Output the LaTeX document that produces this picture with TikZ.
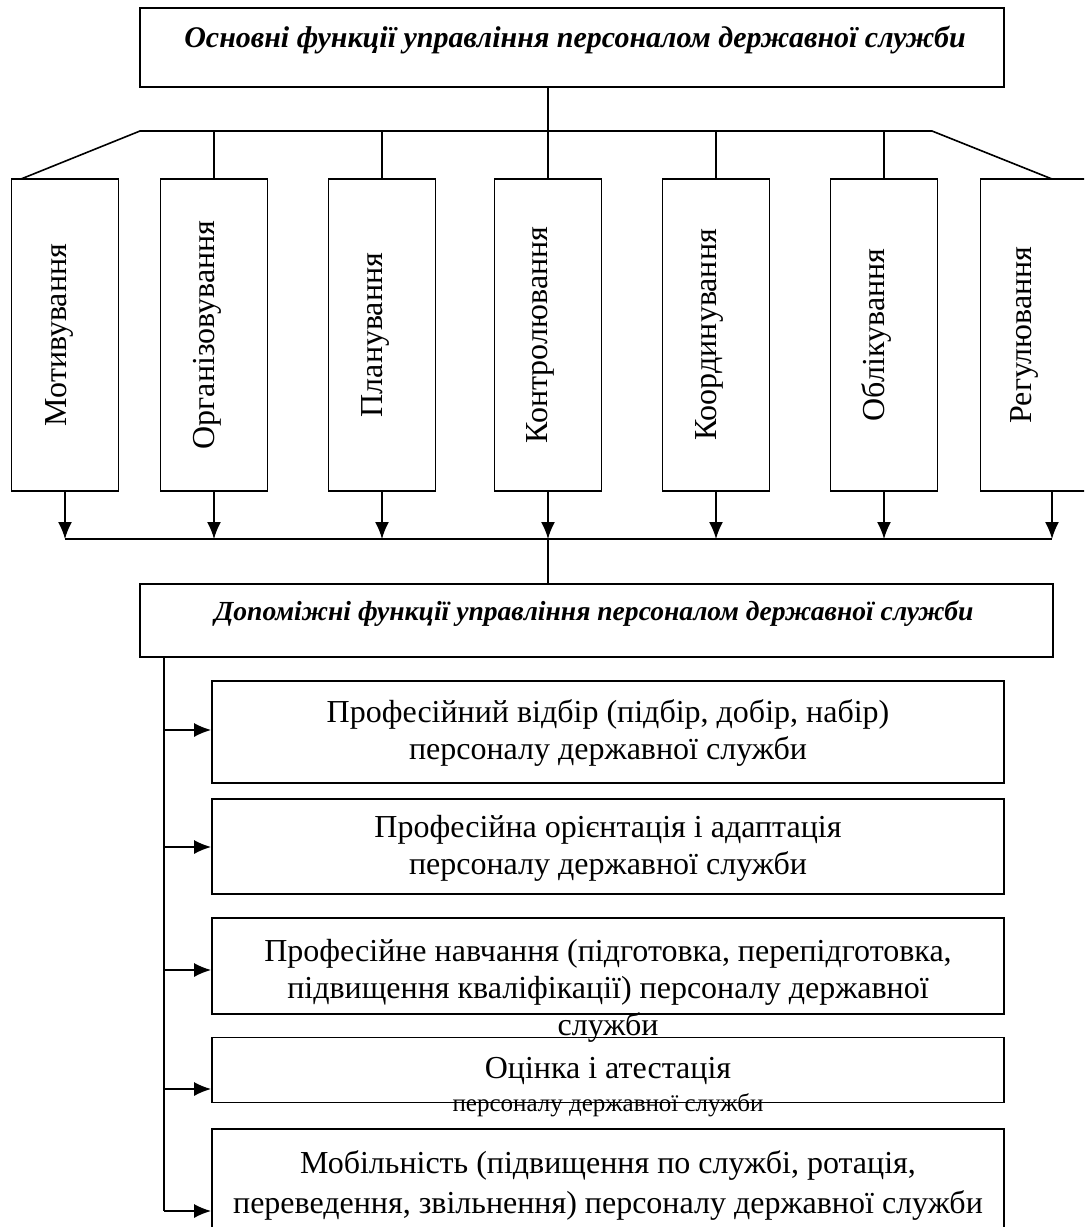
\documentclass[tikz,border=0pt]{standalone}
\usepackage{fontspec}
\setmainfont{Liberation Serif}
\usetikzlibrary{arrows.meta}

\begin{document}
\begin{tikzpicture}[x=0.5pt, y=-0.5pt, line width=0.8pt,
            every node/.style={inner sep=0pt}]
            \tikzstyle{mainBox} = [draw=black, line width=0.9pt, minimum width=53.5pt, minimum height=156pt]
            \tikzstyle{subBox} = [draw=black, line width=0.9pt, minimum width=396pt]
            \tikzstyle{headBox} = [draw=black, line width=0.9pt]
            \tikzstyle{vertLabel} = [rotate=90, anchor=base, font=\fontsize{16}{18}\selectfont]
            \tikzstyle{boxText} = [align=center, font=\fontsize{16}{18.5}\selectfont]
            \tikzstyle{headText} = [font=\fontsize{15}{17}\selectfont\bfseries\itshape]
            \tikzstyle{arrowEdge} = [draw=black, -{Latex[length=8.5pt,width=7pt]}]
            \useasboundingbox (0,0) rectangle (1084,1227);
            \clip (0,0) rectangle (1084,1227);
            % main functions
            \node[headBox, minimum width=432pt, minimum height=39.5pt] (osn) at (572,47.5) {};
            \node[headText] (osnT) at (575,40) {Основні функції управління персоналом державної служби};
            \node[mainBox] (m1) at (65,335)   {};
            \node[mainBox] (m2) at (214,335)  {};
            \node[mainBox] (m3) at (382,335)  {};
            \node[mainBox] (m4) at (548,335)  {};
            \node[mainBox] (m5) at (716,335)  {};
            \node[mainBox] (m6) at (884,335)  {};
            \node[mainBox] (m7) at (1034,335) {};
            \node[vertLabel] (l1) at (66,335)   {Мотивування};
            \node[vertLabel] (l2) at (214,335)  {Організовування};
            \node[vertLabel] (l3) at (382,335)  {Планування};
            \node[vertLabel] (l4) at (547,335)  {Контролювання};
            \node[vertLabel] (l5) at (716,335)  {Координування};
            \node[vertLabel] (l6) at (884,335)  {Облікування};
            \node[vertLabel] (l7) at (1031,335) {Регулювання};
            \coordinate (busL) at (140,131);
            \coordinate (busR) at (932,131);
            \coordinate (fan1) at (21,179);
            \coordinate (fan7) at (1052,179);
            \coordinate (low1) at (68,539);
            \coordinate (low7) at (1052,539);
            \draw (osn.south -| m4.north) -- (m4.north |- busL);
            \draw (fan1) -- (busL) -- (busR) -- (fan7);
            \foreach \n in {2,...,6}
                \draw (m\n.north) -- (m\n.north |- busL);
            \foreach \n in {1,...,6}
                \draw[arrowEdge] (m\n.south) -- (m\n.south |- low1);
            \draw[arrowEdge] (m7.south -| fan7) -- (low7);
            \draw (m1.south |- low1) -- (low7);
            % auxiliary functions
            \node[headBox, minimum width=456.5pt, minimum height=36.5pt] (dop) at (596.5,620.5) {};
            \node[headText, font=\fontsize{13.8}{16}\selectfont\bfseries\itshape] (dopT) at (594,614) {Допоміжні функції управління персоналом державної служби};
            \draw (m4.south |- low1) -- (dop.north -| m4.south);
            \node[subBox, minimum height=51pt]   (sA) at (608,732)    {};
            \node[subBox, minimum height=47.5pt] (sB) at (608,846.5)  {};
            \node[subBox, minimum height=48pt]   (sC) at (608,966)    {};
            \node[subBox, minimum height=32.5pt] (sD) at (608,1070)   {};
            \node[subBox, minimum height=58pt]   (sE) at (608,1187)   {};
            \node[boxText] (tA) at (608,733) {Професійний відбір (підбір, добір, набір)\\персоналу державної служби};
            \node[boxText] (tB) at (608,848) {Професійна орієнтація і адаптація\\ персоналу державної служби};
            \node[boxText] (tC) at (608,991) {Професійне навчання (підготовка, перепідготовка,\\підвищення кваліфікації) персоналу державної\\служби};
            \node[boxText] (tD) at (608,1087) {Оцінка і атестація\\[-2pt]{\fontsize{12.5}{14}\selectfont персоналу державної служби}};
            \node[boxText, font=\fontsize{16}{20}\selectfont] (tE) at (608,1185) {Мобільність (підвищення по службі, ротація,\\переведення, звільнення) персоналу державної служби};
            \coordinate (spine) at (164,1211);
            \draw (dop.south -| spine) -- (spine);
            \foreach \s/\y in {A/730, B/847, C/970, D/1089, E/1211} {
                \coordinate (j\s) at (164,\y);
                \draw[arrowEdge] (j\s) -- (j\s -| s\s.west);
            }
        \end{tikzpicture}
\end{document}
